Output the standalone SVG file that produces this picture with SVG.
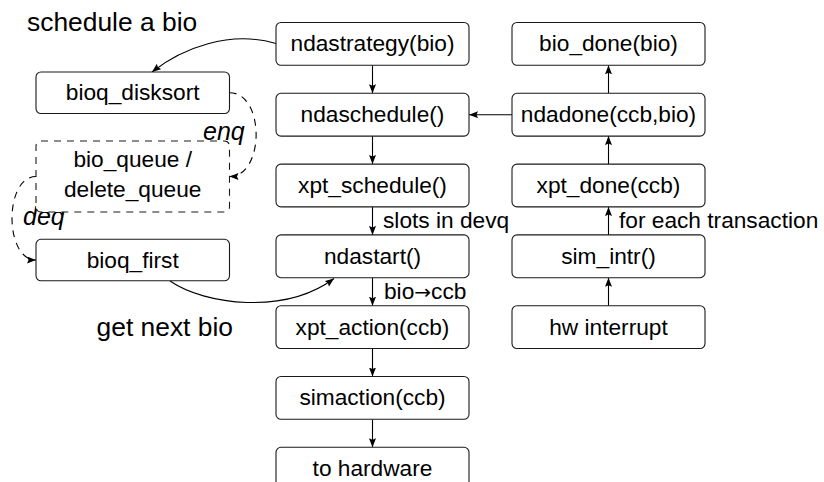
<svg xmlns="http://www.w3.org/2000/svg" width="824" height="482" viewBox="0 0 824 482">
  <defs>
    <marker id="arrow" markerUnits="userSpaceOnUse" markerWidth="10" markerHeight="8" refX="9" refY="3.5" orient="auto">
      <path d="M0,0 L9,3.5 L0,7 L1.5,3.5 z" fill="#000"/>
    </marker>
    <style>
      .box { fill: #fff; stroke: #1a1a1a; stroke-width: 1.1; }
      .dashed { stroke-dasharray: 7 6; }
      .lbl { font-family: "Liberation Sans", Arial, sans-serif; font-size: 22.7px; fill: #000; text-anchor: middle; }
      .side { font-family: "Liberation Sans", Arial, sans-serif; font-size: 22.7px; fill: #000; }
      .big { font-family: "Liberation Sans", Arial, sans-serif; font-size: 26.4px; fill: #000; }
      .it { font-family: "Liberation Sans", Arial, sans-serif; font-size: 25px; font-style: italic; fill: #000; }
      .sym { font-family: "DejaVu Sans", sans-serif; font-size: 20px; }
      .edge { fill: none; stroke: #000; stroke-width: 1.1; marker-end: url(#arrow); }
    </style>
  </defs>
  <rect width="824" height="482" fill="#fff"/>

  <!-- free-standing captions -->
  <text class="big" x="27" y="31">schedule a bio</text>
  <text class="big" x="233" y="336" text-anchor="end">get next bio</text>

  <!-- connectors -->
  <g id="connectors">
    <!-- submit path -->
    <path class="edge" d="M372.5,65.3 V93.3"/>
    <path class="edge" d="M372.5,136.1 V164.1"/>
    <path class="edge" d="M372.5,206.9 V234.9"/>
    <path class="edge" d="M372.5,277.7 V305.7"/>
    <path class="edge" d="M372.5,348.5 V376.5"/>
    <path class="edge" d="M372.5,419.3 V447.3"/>
    <!-- completion path -->
    <path class="edge" d="M608.5,305.7 V277.7"/>
    <path class="edge" d="M608.5,234.9 V206.9"/>
    <path class="edge" d="M608.5,164.1 V136.1"/>
    <path class="edge" d="M608.5,93.3 V65.3"/>
    <path class="edge" d="M512,114.7 H469"/>
    <!-- queueing -->
    <path class="edge" d="M276,43.5 C230,30 182,48 152,72"/>
    <path class="edge dashed" d="M229.5,92.7 C265,92.7 265,176.5 229.5,176.5"/>
    <path class="edge dashed" d="M36,176.5 C4,176.5 4,260 36,260"/>
    <path class="edge" d="M170,281 C205,305 285,315 334,278.5"/>
    <!-- edge labels -->
    <text class="side" x="383" y="228">slots in devq</text>
    <text class="side" x="384" y="299">bio<tspan class="sym">→</tspan>ccb</text>
    <text class="side" x="619" y="228">for each transaction</text>
    <text class="it" x="203" y="140">enq</text>
    <text class="it" x="23" y="225">deq</text>
  </g>

  <!-- left column: bio queue -->
  <g id="bioq_disksort">
    <rect class="box" x="36" y="72" width="193.5" height="41.5" rx="5"/>
    <text class="lbl" x="132.7" y="100.3">bioq_disksort</text>
  </g>
  <g id="bio_queue">
    <rect class="box dashed" x="36" y="141" width="193.5" height="71" rx="5"/>
    <text class="lbl" x="132.7" y="167">bio_queue /</text>
    <text class="lbl" x="132.7" y="197">delete_queue</text>
  </g>
  <g id="bioq_first">
    <rect class="box" x="36" y="239.3" width="193.5" height="41.5" rx="5"/>
    <text class="lbl" x="132.7" y="267.5">bioq_first</text>
  </g>

  <!-- middle column: submit path -->
  <g id="ndastrategy">
    <rect class="box" x="276" y="22.5" width="193" height="42.8" rx="5"/>
    <text class="lbl" x="372.5" y="51.4">ndastrategy(bio)</text>
  </g>
  <g id="ndaschedule">
    <rect class="box" x="276" y="93.3" width="193" height="42.8" rx="5"/>
    <text class="lbl" x="372.5" y="122.2">ndaschedule()</text>
  </g>
  <g id="xpt_schedule">
    <rect class="box" x="276" y="164.1" width="193" height="42.8" rx="5"/>
    <text class="lbl" x="372.5" y="193">xpt_schedule()</text>
  </g>
  <g id="ndastart">
    <rect class="box" x="276" y="234.9" width="193" height="42.8" rx="5"/>
    <text class="lbl" x="372.5" y="263.8">ndastart()</text>
  </g>
  <g id="xpt_action">
    <rect class="box" x="276" y="305.7" width="193" height="42.8" rx="5"/>
    <text class="lbl" x="372.5" y="334.6">xpt_action(ccb)</text>
  </g>
  <g id="simaction">
    <rect class="box" x="276" y="376.5" width="193" height="42.8" rx="5"/>
    <text class="lbl" x="372.5" y="405.4">simaction(ccb)</text>
  </g>
  <g id="to_hardware">
    <rect class="box" x="276" y="447.3" width="193" height="42.8" rx="5"/>
    <text class="lbl" x="372.5" y="476.2">to hardware</text>
  </g>

  <!-- right column: completion path -->
  <g id="bio_done">
    <rect class="box" x="512" y="22.5" width="193" height="42.8" rx="5"/>
    <text class="lbl" x="608.5" y="51.4">bio_done(bio)</text>
  </g>
  <g id="ndadone">
    <rect class="box" x="512" y="93.3" width="193" height="42.8" rx="5"/>
    <text class="lbl" x="608.5" y="122.2">ndadone(ccb,bio)</text>
  </g>
  <g id="xpt_done">
    <rect class="box" x="512" y="164.1" width="193" height="42.8" rx="5"/>
    <text class="lbl" x="608.5" y="193">xpt_done(ccb)</text>
  </g>
  <g id="sim_intr">
    <rect class="box" x="512" y="234.9" width="193" height="42.8" rx="5"/>
    <text class="lbl" x="608.5" y="263.8">sim_intr()</text>
  </g>
  <g id="hw_interrupt">
    <rect class="box" x="512" y="305.7" width="193" height="42.8" rx="5"/>
    <text class="lbl" x="608.5" y="334.6">hw interrupt</text>
  </g>
</svg>
